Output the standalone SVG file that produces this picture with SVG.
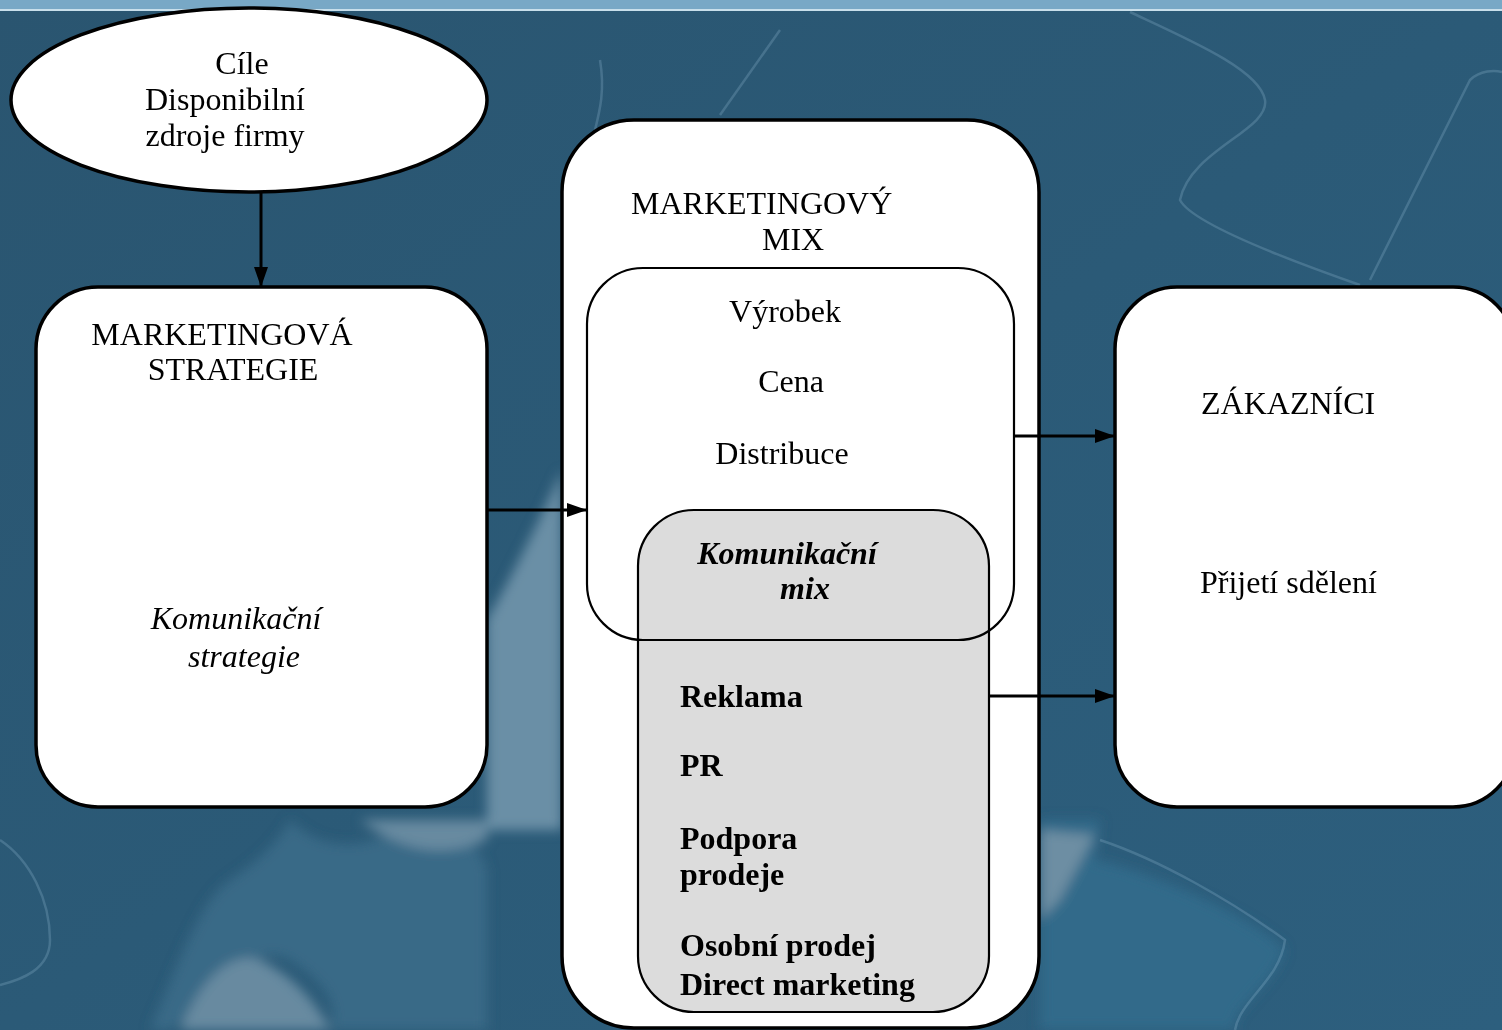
<svg xmlns="http://www.w3.org/2000/svg" width="1502" height="1030" viewBox="0 0 1502 1030">
<defs>
<style>
text{font-family:"Liberation Serif","Times New Roman","DejaVu Serif",serif;font-size:32px;fill:#000}
.b{font-weight:bold}
.i{font-style:italic}
.box{fill:#fff;stroke:#000;stroke-width:3.5}
.con{stroke:#000;stroke-width:3;fill:none}
.hl{fill:none;stroke:#8fb8cf;stroke-width:2.5;opacity:0.28}
</style>
<marker id="ah" viewBox="0 0 20 14" refX="20" refY="7" markerWidth="20" markerHeight="14" markerUnits="userSpaceOnUse" orient="auto">
<path d="M0,0 L20,7 L0,14 z" fill="#000"/>
</marker>
<linearGradient id="bg" x1="0" y1="0" x2="1" y2="1">
<stop offset="0" stop-color="#2a5570"/>
<stop offset="0.5" stop-color="#2b5a77"/>
<stop offset="1" stop-color="#2d5f7e"/>
</linearGradient>
<filter id="soft" x="-20%" y="-20%" width="140%" height="140%"><feGaussianBlur stdDeviation="6"/></filter>
</defs>
<g id="background">
<rect width="1502" height="1030" fill="url(#bg)"/>
<g filter="url(#soft)">
<path d="M487,620 C510,580 540,520 562,470 L562,830 L487,830 z" fill="#6b8fa6"/>
<path d="M290,820 C320,850 360,850 400,830 C440,815 480,840 487,870 L487,1030 L330,1030 C340,1000 320,980 290,960 C250,940 230,990 170,1030 L150,1030 C180,960 200,900 230,880 C260,860 280,840 290,820 z" fill="#3a6b88" opacity="0.9"/>
<path d="M180,1030 C200,980 230,950 260,960 C300,980 320,1010 330,1030 z" fill="#678aa0"/>
<path d="M360,820 L487,820 L487,840 C440,860 400,850 360,820 z" fill="#678aa0"/>
<path d="M1040,820 L1100,820 L1095,860 C1150,870 1260,920 1285,950 C1270,990 1230,1010 1235,1030 L1040,1030 z" fill="#336a8a"/>
<path d="M1040,830 L1095,835 L1060,900 L1040,920 z" fill="#6d8ea3"/>
</g>
<path class="hl" d="M1130,12 C1190,40 1260,70 1265,100 C1270,130 1190,150 1180,200 C1190,220 1260,250 1360,285"/>
<path class="hl" d="M1370,280 L1470,80 C1480,70 1495,70 1502,72"/>
<path class="hl" d="M1100,840 C1160,860 1230,900 1285,940 C1280,980 1240,1000 1235,1030"/>
<path class="hl" d="M0,840 C30,860 50,900 50,940 C50,970 20,980 0,985"/>
<path class="hl" d="M600,60 C605,90 600,110 595,130"/>
<path class="hl" d="M720,115 L780,30"/>
<rect x="0" y="0" width="1502" height="10" fill="#78a8c6"/>
<rect x="0" y="9" width="1502" height="2" fill="#c8dfeb"/>
</g>
<g id="cile">
<ellipse class="box" cx="249" cy="100" rx="238" ry="92"/>
<text text-anchor="middle"><tspan x="242" y="74">Cíle</tspan><tspan x="225" y="110">Disponibilní</tspan><tspan x="225" y="146">zdroje firmy</tspan></text>
</g>
<g id="strategie">
<rect class="box" x="36" y="287" width="451" height="520" rx="62" ry="62"/>
<text text-anchor="middle"><tspan x="222" y="345">MARKETINGOVÁ</tspan><tspan x="233" y="380">STRATEGIE</tspan></text>
<text class="i" text-anchor="middle"><tspan x="236" y="629">Komunikační</tspan><tspan x="244" y="667">strategie</tspan></text>
</g>
<g id="mix">
<rect class="box" x="562" y="120" width="477" height="908" rx="72" ry="72" stroke-width="4"/>
<text><tspan x="631" y="214">MARKETINGOVÝ</tspan><tspan x="762" y="250">MIX</tspan></text>
</g>
<g id="inner">
<rect x="587" y="268" width="427" height="372" rx="56" ry="56" fill="#fff"/>
<text text-anchor="middle"><tspan x="785" y="322">Výrobek</tspan><tspan x="791" y="392">Cena</tspan><tspan x="782" y="464">Distribuce</tspan></text>
</g>
<g id="komunikacni-mix">
<rect x="638" y="510" width="351" height="502" rx="56" ry="56" fill="#dcdcdc" stroke="#000" stroke-width="2.2"/>
<rect x="587" y="268" width="427" height="372" rx="56" ry="56" fill="none" stroke="#000" stroke-width="2.2"/>
<text class="b i" text-anchor="middle"><tspan x="787" y="564">Komunikační</tspan><tspan x="805" y="599">mix</tspan></text>
<text class="b"><tspan x="680" y="707">Reklama</tspan><tspan x="680" y="776">PR</tspan><tspan x="680" y="849">Podpora</tspan><tspan x="680" y="885">prodeje</tspan><tspan x="680" y="956">Osobní prodej</tspan><tspan x="680" y="995">Direct marketing</tspan></text>
</g>
<g id="zakaznici">
<rect class="box" x="1115" y="287" width="400" height="520" rx="62" ry="62"/>
<text><tspan x="1201" y="414">ZÁKAZNÍCI</tspan><tspan x="1200" y="593">Přijetí sdělení</tspan></text>
</g>
<g id="connectors">
<line class="con" x1="261" y1="193" x2="261" y2="287" marker-end="url(#ah)"/>
<line class="con" x1="487" y1="510" x2="587" y2="510" marker-end="url(#ah)"/>
<line class="con" x1="1014" y1="436" x2="1115" y2="436" marker-end="url(#ah)"/>
<line class="con" x1="989" y1="696" x2="1115" y2="696" marker-end="url(#ah)"/>
</g>
</svg>
